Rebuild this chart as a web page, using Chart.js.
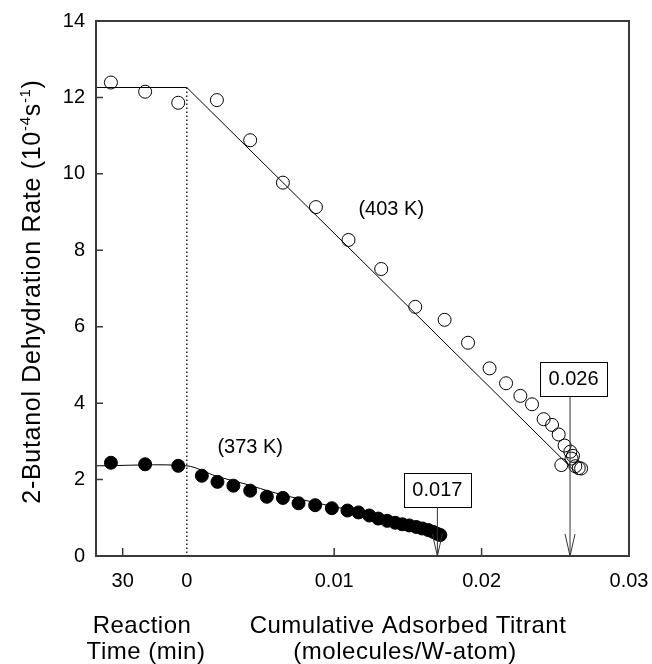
<!DOCTYPE html>
<html>
<head>
<meta charset="utf-8">
<script src="https://cdn.jsdelivr.net/npm/chart.js@4.4.1/dist/chart.umd.min.js"></script>
<style>
  body { margin: 0; background: #fff; }
  #wrap { width: 652px; height: 664px; }
</style>
</head>
<body>
<div id="wrap"><canvas id="rate_chart" width="652" height="664"></canvas></div>
<script>
// ---- data ----
// 403 K, open circles
const time403 = [35.5, 19.5, 4];            // reaction time before titration (min)
const rateTime403 = [12.39, 12.15, 11.86];
const titrant403 = [0.00204, 0.0043, 0.00652, 0.00876, 0.01097, 0.01319, 0.0155, 0.01749, 0.01908,
  0.02054, 0.02166, 0.02263, 0.02342, 0.02421, 0.02478, 0.02523, 0.02563, 0.02602, 0.0262, 0.0261,
  0.02541, 0.02636, 0.02659, 0.02675];
const rate403 = [11.93, 10.88, 9.77, 9.13, 8.27, 7.51, 6.52, 6.18, 5.58,
  4.91, 4.52, 4.19, 3.97, 3.58, 3.43, 3.18, 2.89, 2.73, 2.62, 2.55,
  2.38, 2.35, 2.30, 2.29];
// 403 K fit line
const fit403X = [-0.00616, 0, 0.02647];
const fit403Y = [12.26, 12.26, 2.16];

// 373 K, filled circles
const time373 = [35.5, 19.5, 4];
const rateTime373 = [2.44, 2.40, 2.36];
const titrant373 = [0.00102, 0.00208, 0.00316, 0.0043, 0.00543, 0.00652, 0.00758, 0.00871, 0.00984,
  0.0109, 0.01165, 0.01238, 0.01299, 0.0136, 0.01414, 0.01462, 0.01509, 0.01557, 0.01598, 0.01638,
  0.01672, 0.01699, 0.0172];
const rate373 = [2.10, 1.94, 1.84, 1.71, 1.55, 1.52, 1.38, 1.33, 1.25,
  1.19, 1.14, 1.06, 0.98, 0.92, 0.87, 0.83, 0.80, 0.76, 0.72, 0.68,
  0.63, 0.58, 0.55];
// 373 K fit curve
const fit373X = [-0.00616, 0, 0.002, 0.004, 0.006, 0.008, 0.010, 0.012, 0.014, 0.016, 0.0173];
const fit373Y = [2.36, 2.36, 2.09, 1.88, 1.65, 1.46, 1.29, 1.13, 0.98, 0.78, 0.58];

// end-point markers
const endLabels = ["0.017", "0.026"];
const endValues = [0.017, 0.026];
const endBoxBottom = [1.29, 4.19];

// axis ticks
const xTickValues = [30, 0, 0.01, 0.02, 0.03];   // first two are minutes
const xTickLabels = ["30", "0", "0.01", "0.02", "0.03"];
const yTicks = [0, 2, 4, 6, 8, 10, 12, 14];

// the left part of the axis is reaction time; map minutes onto the titrant axis
const MIN_TO_X = 0.00435 / 30;
const X_MIN = -0.00616, X_MAX = 0.03;
const toX = (v, i) => i < 2 ? -v * MIN_TO_X : v;

const FONT = "'Liberation Sans', Arial, sans-serif";

function pts(xs, ys) { return xs.map((x, i) => ({ x: x, y: ys[i] })); }
function timePts(ts, ys) { return ts.map((t, i) => ({ x: -t * MIN_TO_X, y: ys[i] })); }

const ctx = document.getElementById("rate_chart").getContext("2d");

const decor = {
  id: "decor",
  afterDraw(chart) {
    const c = chart.ctx, a = chart.chartArea, x = chart.scales.x, y = chart.scales.y;
    c.save();
    // frame
    c.strokeStyle = "#3a3a3a";
    c.lineWidth = 2;
    c.strokeRect(a.left, a.top, a.right - a.left, a.bottom - a.top);
    // inward tick marks
    c.lineWidth = 1.5;
    c.beginPath();
    yTicks.slice(1, -1).forEach(v => {
      const py = y.getPixelForValue(v);
      c.moveTo(a.left, py); c.lineTo(a.left + 7, py);
    });
    xTickValues.forEach((v, i) => {
      const xv = toX(v, i);
      if (xv === 0 || xv >= X_MAX) return;
      const px = x.getPixelForValue(xv);
      c.moveTo(px, a.bottom); c.lineTo(px, a.bottom - 8);
    });
    c.stroke();

    // temperature labels
    c.fillStyle = "#000";
    c.font = "20px " + FONT;
    c.textAlign = "center";
    c.textBaseline = "middle";
    c.fillText("(403 K)", x.getPixelForValue(0.01387), y.getPixelForValue(9.08));
    c.fillText("(373 K)", x.getPixelForValue(0.0043), y.getPixelForValue(2.85));

    // end-point boxes with arrows
    endValues.forEach((v, i) => {
      const px = x.getPixelForValue(v);
      const by = y.getPixelForValue(endBoxBottom[i]);
      const w = 67, h = 34;
      const cx = px + (i === 1 ? 3.5 : 0);
      c.strokeStyle = "#000";
      c.lineWidth = 1;
      c.strokeRect(Math.round(cx - w / 2) + 0.5, Math.round(by - h) + 0.5, w, h);
      c.fillText(endLabels[i], cx, by - h / 2 + 1);
      c.strokeStyle = "#333";
      c.beginPath();
      c.moveTo(px, by + 0.5); c.lineTo(px, a.bottom);
      c.moveTo(px - 5, a.bottom - 22); c.lineTo(px, a.bottom); c.lineTo(px + 5, a.bottom - 22);
      c.stroke();
    });

    // bottom axis titles
    c.fillStyle = "#000";
    c.font = "24px " + FONT;
    c.textBaseline = "alphabetic";
    c.letterSpacing = "0.5px";
    c.fillText("Reaction", 142, 633);
    c.fillText("Time (min)", 146, 659);
    c.fillText("Cumulative Adsorbed Titrant", 408, 633);
    c.fillText("(molecules/W-atom)", 405, 659);

    // y axis title with superscripts
    const parts = [
      ["2-Butanol Dehydration Rate (10", false],
      ["-4", true], ["s", false], ["-1", true], [")", false]
    ];
    const big = "25px " + FONT, small = "15px " + FONT;
    c.letterSpacing = "0.7px";
    let total = 0;
    parts.forEach(p => { c.font = p[1] ? small : big; total += c.measureText(p[0]).width; });
    c.translate(40, (a.top + a.bottom) / 2 + 3);
    c.rotate(-Math.PI / 2);
    c.textAlign = "left";
    let tx = -total / 2;
    parts.forEach(p => {
      c.font = p[1] ? small : big;
      c.fillText(p[0], tx, p[1] ? -10 : 0);
      tx += c.measureText(p[0]).width;
    });
    c.restore();
  }
};

new Chart(ctx, {
  type: "scatter",
  data: {
    datasets: [{
      label: "403 K",
      data: timePts(time403, rateTime403).concat(pts(titrant403, rate403)),
      pointRadius: 6.5,
      pointBorderWidth: 1,
      borderColor: "#000",
      backgroundColor: "rgba(255,255,255,0)",
      order: 1
    }, {
      label: "373 K",
      data: timePts(time373, rateTime373).concat(pts(titrant373, rate373)),
      pointRadius: 6.5,
      pointBorderWidth: 1,
      borderColor: "#000",
      backgroundColor: "#000",
      order: 0
    }, {
      label: "fit 403 K",
      data: pts(fit403X, fit403Y),
      showLine: true,
      pointRadius: 0,
      borderColor: "#000",
      borderWidth: 1,
      order: 3
    }, {
      label: "fit 373 K",
      data: pts(fit373X, fit373Y),
      showLine: true,
      tension: 0.3,
      pointRadius: 0,
      borderColor: "#000",
      borderWidth: 1,
      order: 3
    }, {
      label: "start",
      data: pts([0, 0], [fit403Y[1], 0]),
      showLine: true,
      pointRadius: 0,
      borderColor: "#000",
      borderWidth: 1.3,
      borderDash: [1.5, 2.5],
      order: 4
    }]
  },
  options: {
    responsive: false,
    animation: false,
    devicePixelRatio: 1,
    layout: { padding: { top: 21, right: 23, left: 0, bottom: 0 } },
    plugins: {
      legend: { display: false },
      tooltip: { enabled: false }
    },
    scales: {
      x: {
        type: "linear",
        min: X_MIN,
        max: X_MAX,
        afterBuildTicks: scale => {
          scale.ticks = xTickValues.map((v, i) => ({ value: toX(v, i) }));
        },
        afterFit: scale => {
          scale.height = 108;
          scale.paddingLeft = 0;
          scale.paddingRight = 0;
        },
        grid: { display: true, drawOnChartArea: false, drawTicks: false },
        border: { display: false },
        ticks: {
          autoSkip: false,
          maxRotation: 0,
          padding: 13,
          color: "#000",
          font: { family: FONT, size: 20 },
          callback: (val, idx) => xTickLabels[idx]
        }
      },
      y: {
        min: 0,
        max: 14,
        afterBuildTicks: scale => {
          scale.ticks = yTicks.map(v => ({ value: v }));
        },
        afterFit: scale => {
          scale.width = 96;
          scale.paddingTop = 0;
          scale.paddingBottom = 0;
        },
        grid: { display: true, drawOnChartArea: false, drawTicks: false },
        border: { display: false },
        ticks: {
          padding: 11,
          color: "#000",
          font: { family: FONT, size: 20 }
        }
      }
    }
  },
  plugins: [decor]
});
</script>
</body>
</html>
